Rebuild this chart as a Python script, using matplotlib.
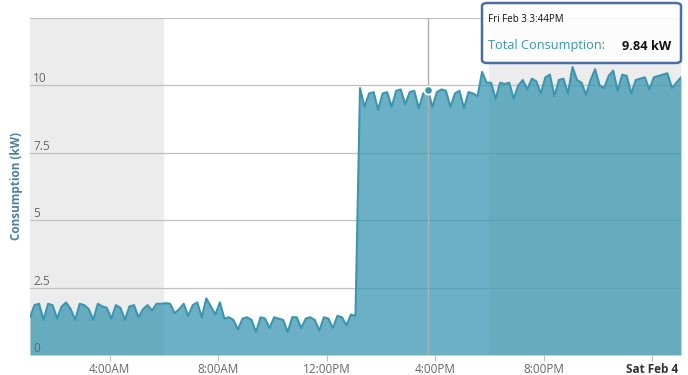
import matplotlib
matplotlib.use("Agg")
import matplotlib.pyplot as plt
import matplotlib.dates as mdates
from matplotlib.patches import FancyBboxPatch
import pandas as pd
import numpy as np

plt.rcParams['font.family'] = ['Open Sans', 'DejaVu Sans']

# ---- data (10-minute readings, kW) ----
start_time = "2023-02-03 01:04"
interval = "10min"
consumption = [
    1.40, 1.85, 1.90, 1.30, 1.90, 1.85,
    1.35, 1.80, 1.95, 1.70, 1.30, 1.90,
    1.85, 1.70, 1.30, 1.90, 1.80, 1.75,
    1.35, 1.85, 1.75, 1.30, 1.80, 1.85,
    1.40, 1.70, 1.85, 1.65, 1.90, 1.90,
    1.92, 1.90, 1.55, 1.70, 1.90, 1.45,
    1.85, 1.95, 1.40, 2.10, 1.80, 1.50,
    1.95, 1.35, 1.40, 1.30, 0.95, 1.35,
    1.40, 1.30, 0.85, 1.40, 1.35, 1.00,
    1.40, 1.35, 1.30, 0.85, 1.40, 1.40,
    1.00, 1.35, 1.40, 1.30, 0.90, 1.40,
    1.35, 1.00, 1.45, 1.40, 1.10, 1.50,
    1.45, 9.90, 9.20, 9.70, 9.75, 9.10,
    9.70, 9.75, 9.20, 9.80, 9.85, 9.30,
    9.75, 9.80, 9.15, 9.70, 9.84, 9.20,
    9.75, 9.85, 9.80, 9.20, 9.70, 9.80,
    9.15, 9.75, 9.70, 9.60, 10.50, 10.10,
    10.10, 9.50, 10.10, 10.05, 10.10, 9.50,
    10.00, 10.20, 9.85, 10.25, 10.15, 9.70,
    10.30, 10.40, 9.60, 10.20, 10.25, 9.70,
    10.68, 10.20, 10.10, 9.65, 10.20, 10.60,
    10.00, 9.90, 10.35, 10.55, 9.80, 10.40,
    10.35, 9.70, 10.20, 10.25, 10.30, 9.85,
    10.30, 10.35, 10.40, 10.45, 9.90, 10.10,
    10.30,
]
offpeak_bands = [("2023-02-03 01:00", "2023-02-03 06:00"),
                 ("2023-02-03 18:00", "2023-02-04 02:00")]
ytick_values = [0, 2.5, 5, 7.5, 10]
ytick_labels = ["0", "2.5", "5", "7.5", "10"]
xtick_times = ["2023-02-03 04:00", "2023-02-03 08:00", "2023-02-03 12:00",
               "2023-02-03 16:00", "2023-02-03 20:00", "2023-02-04 00:00"]
xtick_labels = ["4:00AM", "8:00AM", "12:00PM", "4:00PM", "8:00PM", "Sat Feb 4"]
hover_time = "2023-02-03 15:44"
hover_value = 9.84
hover_date_text = "Fri Feb 3 3:44PM"
series_name = "Total Consumption"

times = pd.date_range(start_time, periods=len(consumption), freq=interval)
x = mdates.date2num(times.to_pydatetime())

W, H = 688, 375
fig = plt.figure(figsize=(W / 100, H / 100), dpi=100)
L, R, T, B = 30, 681, 18, 355
ax = fig.add_axes([L / W, 1 - B / H, (R - L) / W, (B - T) / H])

line_color = "#3a96b0"
for a, b in offpeak_bands:
    ax.axvspan(mdates.date2num(pd.Timestamp(a)), mdates.date2num(pd.Timestamp(b)),
               color="#ececec", zorder=0, lw=0)

for v in ytick_values + [12.5]:
    ax.axhline(v, color="#c0c0c0", lw=0.9, zorder=1)

ax.fill_between(x, consumption, 0, color=line_color, alpha=0.75, lw=0, zorder=2)
ax.plot(x, consumption, color=line_color, lw=1.5, zorder=3)

ax.set_xlim(x[0], x[-1])
ax.set_ylim(0, 12.5)

for s in ax.spines.values():
    s.set_visible(False)
ax.set_yticks([])

ax.set_xticks(mdates.date2num([pd.Timestamp(t) for t in xtick_times]))
ax.set_xticklabels(xtick_labels)
ax.tick_params(axis='x', length=4, color="#c0c0c0", labelsize=8.5, labelcolor="#666666", pad=2)
for lbl in ax.get_xticklabels():
    if lbl.get_text().startswith("Sat"):
        lbl.set_fontweight("bold")
        lbl.set_color("#333333")

for v, t in zip(ytick_values, ytick_labels):
    ax.text(0.005, v, t, transform=ax.get_yaxis_transform(), ha='left', va='bottom',
            fontsize=8.5, color="#666666", zorder=4)

fig.text(17 / W, 1 - 186 / H, "Consumption (kW)", rotation=90, ha='center', va='center',
         fontsize=8.5, fontweight='bold', color="#4d7fa0")

# crosshair + hover marker
hx = mdates.date2num(pd.Timestamp(hover_time))
ax.axvline(hx, color="#b0b0b0", lw=1, zorder=3.5)
ax.plot([hx], [hover_value], 'o', ms=6, color=line_color, mec='white', mew=1.2, zorder=5)

# tooltip
bx0, by0, bx1, by1 = 482, 3, 681, 63
box = FancyBboxPatch((bx0 / W, 1 - by1 / H), (bx1 - bx0) / W, (by1 - by0) / H,
                     boxstyle="round,pad=0,rounding_size=0.008",
                     transform=fig.transFigure, facecolor=(1, 1, 1, 0.85),
                     edgecolor="#4a6fa5", lw=1.8, zorder=10)
fig.patches.append(box)
fig.text(488 / W, 1 - 20 / H, hover_date_text, fontsize=7, color="#111111",
         ha='left', va='center', zorder=11)
fig.text(488 / W, 1 - 46 / H, series_name + ":", fontsize=9.2, color="#3a96b0",
         ha='left', va='center', zorder=11)
fig.text(622 / W, 1 - 46 / H, f"{hover_value:.2f} kW", fontsize=9.2, fontweight='bold',
         color="#111111", ha='left', va='center', zorder=11)

fig.savefig("out.png", dpi=100)
